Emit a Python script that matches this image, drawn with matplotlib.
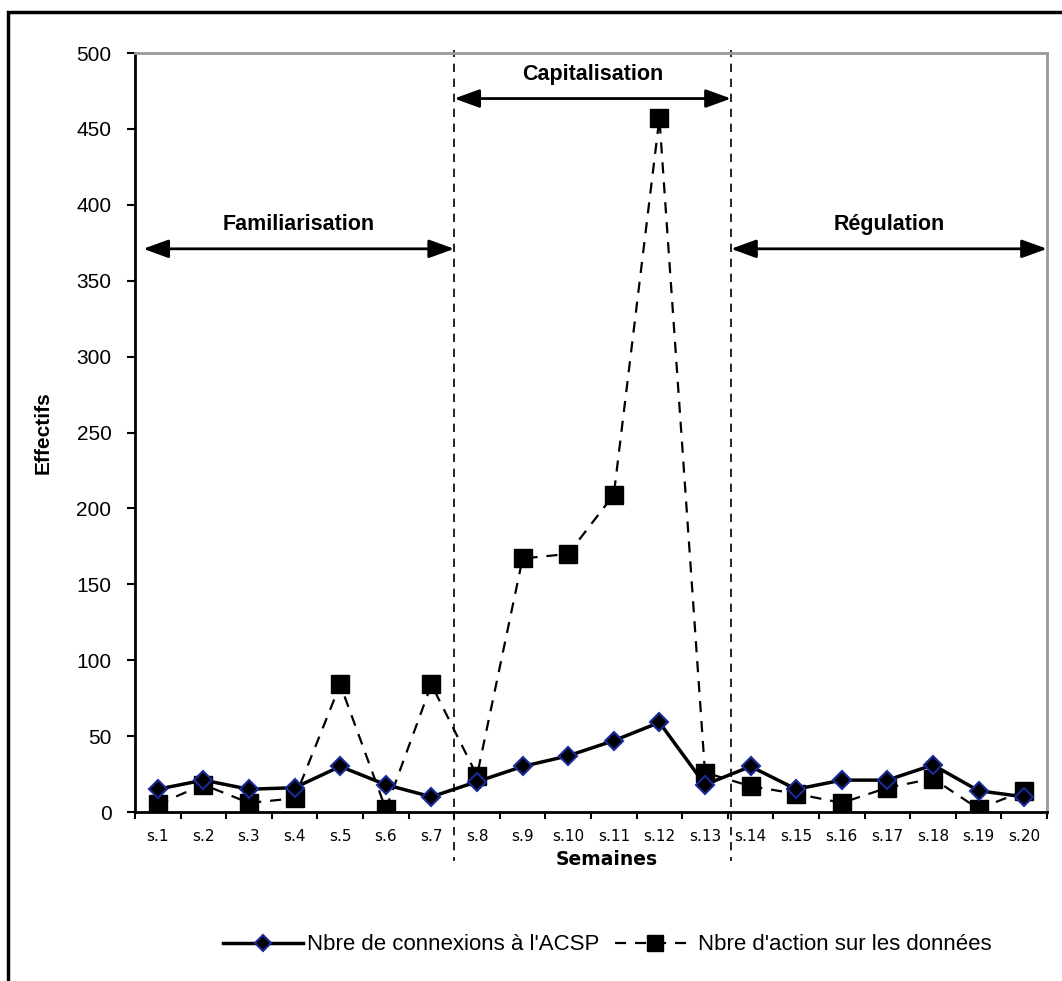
import matplotlib.pyplot as plt
from matplotlib.patches import Rectangle

weeks = [f"s.{i}" for i in range(1, 21)]
connexions = [15, 21, 15, 16, 30, 18, 10, 20, 30, 37, 47, 59, 18, 30, 15, 21, 21, 31, 14, 10]
actions = [5, 18, 6, 9, 84, 2, 84, 24, 167, 170, 209, 457, 26, 17, 12, 6, 16, 22, 2, 14]

# phase boundaries (in category units, s.1 = 1) and arrow heights
bounds = [0.68, 7.5, 13.57, 20.5]
phases = ["Familiarisation", "Capitalisation", "Régulation"]
phase_y = [371, 470, 371]

plt.rcParams['font.family'] = ['Liberation Sans', 'DejaVu Sans']

fig = plt.figure(figsize=(10.62, 9.81), dpi=100)
ax = fig.add_axes([135 / 1062, 1 - 812 / 981, (1047 - 135) / 1062, (812 - 53) / 981])

x = list(range(1, 21))
ax.plot(x, actions, color='black', linestyle=(0, (5, 4)), linewidth=1.6,
        marker='s', markersize=13, markerfacecolor='black', markeredgecolor='black',
        label="Nbre d'action sur les données", zorder=3)
ax.plot(x, connexions, color='black', linewidth=2.5,
        marker='D', markersize=9, markerfacecolor='black', markeredgecolor='#1a2a9a',
        markeredgewidth=1.5, label="Nbre de connexions à l'ACSP", zorder=4)

ax.set_xlim(0.5, 20.5)
ax.set_ylim(0, 500)
ax.set_yticks(range(0, 501, 50))
ax.set_xticks([i + 0.5 for i in range(0, 21)])
ax.set_xticklabels([])
ax.set_xticks(x, minor=True)
ax.set_xticklabels(weeks, minor=True, family='DejaVu Sans', fontsize=11)
ax.tick_params(axis='x', which='major', length=5, width=1.5, direction='out')
ax.tick_params(axis='x', which='minor', length=0, pad=12)
ax.tick_params(axis='y', length=6, width=1.5, labelsize=15, pad=11)

for side in ['top', 'right']:
    ax.spines[side].set_color('#999999')
    ax.spines[side].set_linewidth(2)
for side in ['left', 'bottom']:
    ax.spines[side].set_linewidth(2)

ax.set_ylabel("Effectifs", fontsize=15, fontweight='bold')
ax.yaxis.set_label_coords(-0.09, 0.5)
ax.set_xlabel("Semaines", fontsize=13.5, fontweight='bold', family='DejaVu Sans')
ax.xaxis.set_label_coords(0.5175, -0.05)

# vertical phase separators
for b in bounds[1:3]:
    ax.plot([b, b], [3, 502], color='black', linestyle=(0, (5, 4)), linewidth=1.2,
            clip_on=False, zorder=2)
    ax.plot([b, b], [0, -32], color='black', linestyle=(0, (5, 4)), linewidth=1.2,
            clip_on=False, zorder=2)

# phase arrows with labels
for i, name in enumerate(phases):
    ax.annotate("", xy=(bounds[i], phase_y[i]), xytext=(bounds[i + 1], phase_y[i]),
                annotation_clip=False,
                arrowprops=dict(arrowstyle='<|-|>,head_length=0.55,head_width=0.2',
                                color='black', lw=2, mutation_scale=28,
                                shrinkA=0, shrinkB=0))
    ax.text((bounds[i] + bounds[i + 1]) / 2, phase_y[i] + 9, name,
            ha='center', va='bottom', fontsize=15.5, fontweight='bold')

handles, labels = ax.get_legend_handles_labels()
fig.legend(handles[::-1], labels[::-1], loc='center', bbox_to_anchor=(0.572, 1 - 945 / 981),
           ncol=2, frameon=False, fontsize=16, handlelength=3.6, columnspacing=0.7,
           handletextpad=0.15, markerscale=0.85)

# outer chart border
fig.patches.append(Rectangle((8 / 1062, -0.05), 1.1, 1 - 12 / 981 + 0.05,
                             transform=fig.transFigure, fill=False,
                             edgecolor='black', linewidth=2.5))

fig.savefig("out.png", dpi=100)
